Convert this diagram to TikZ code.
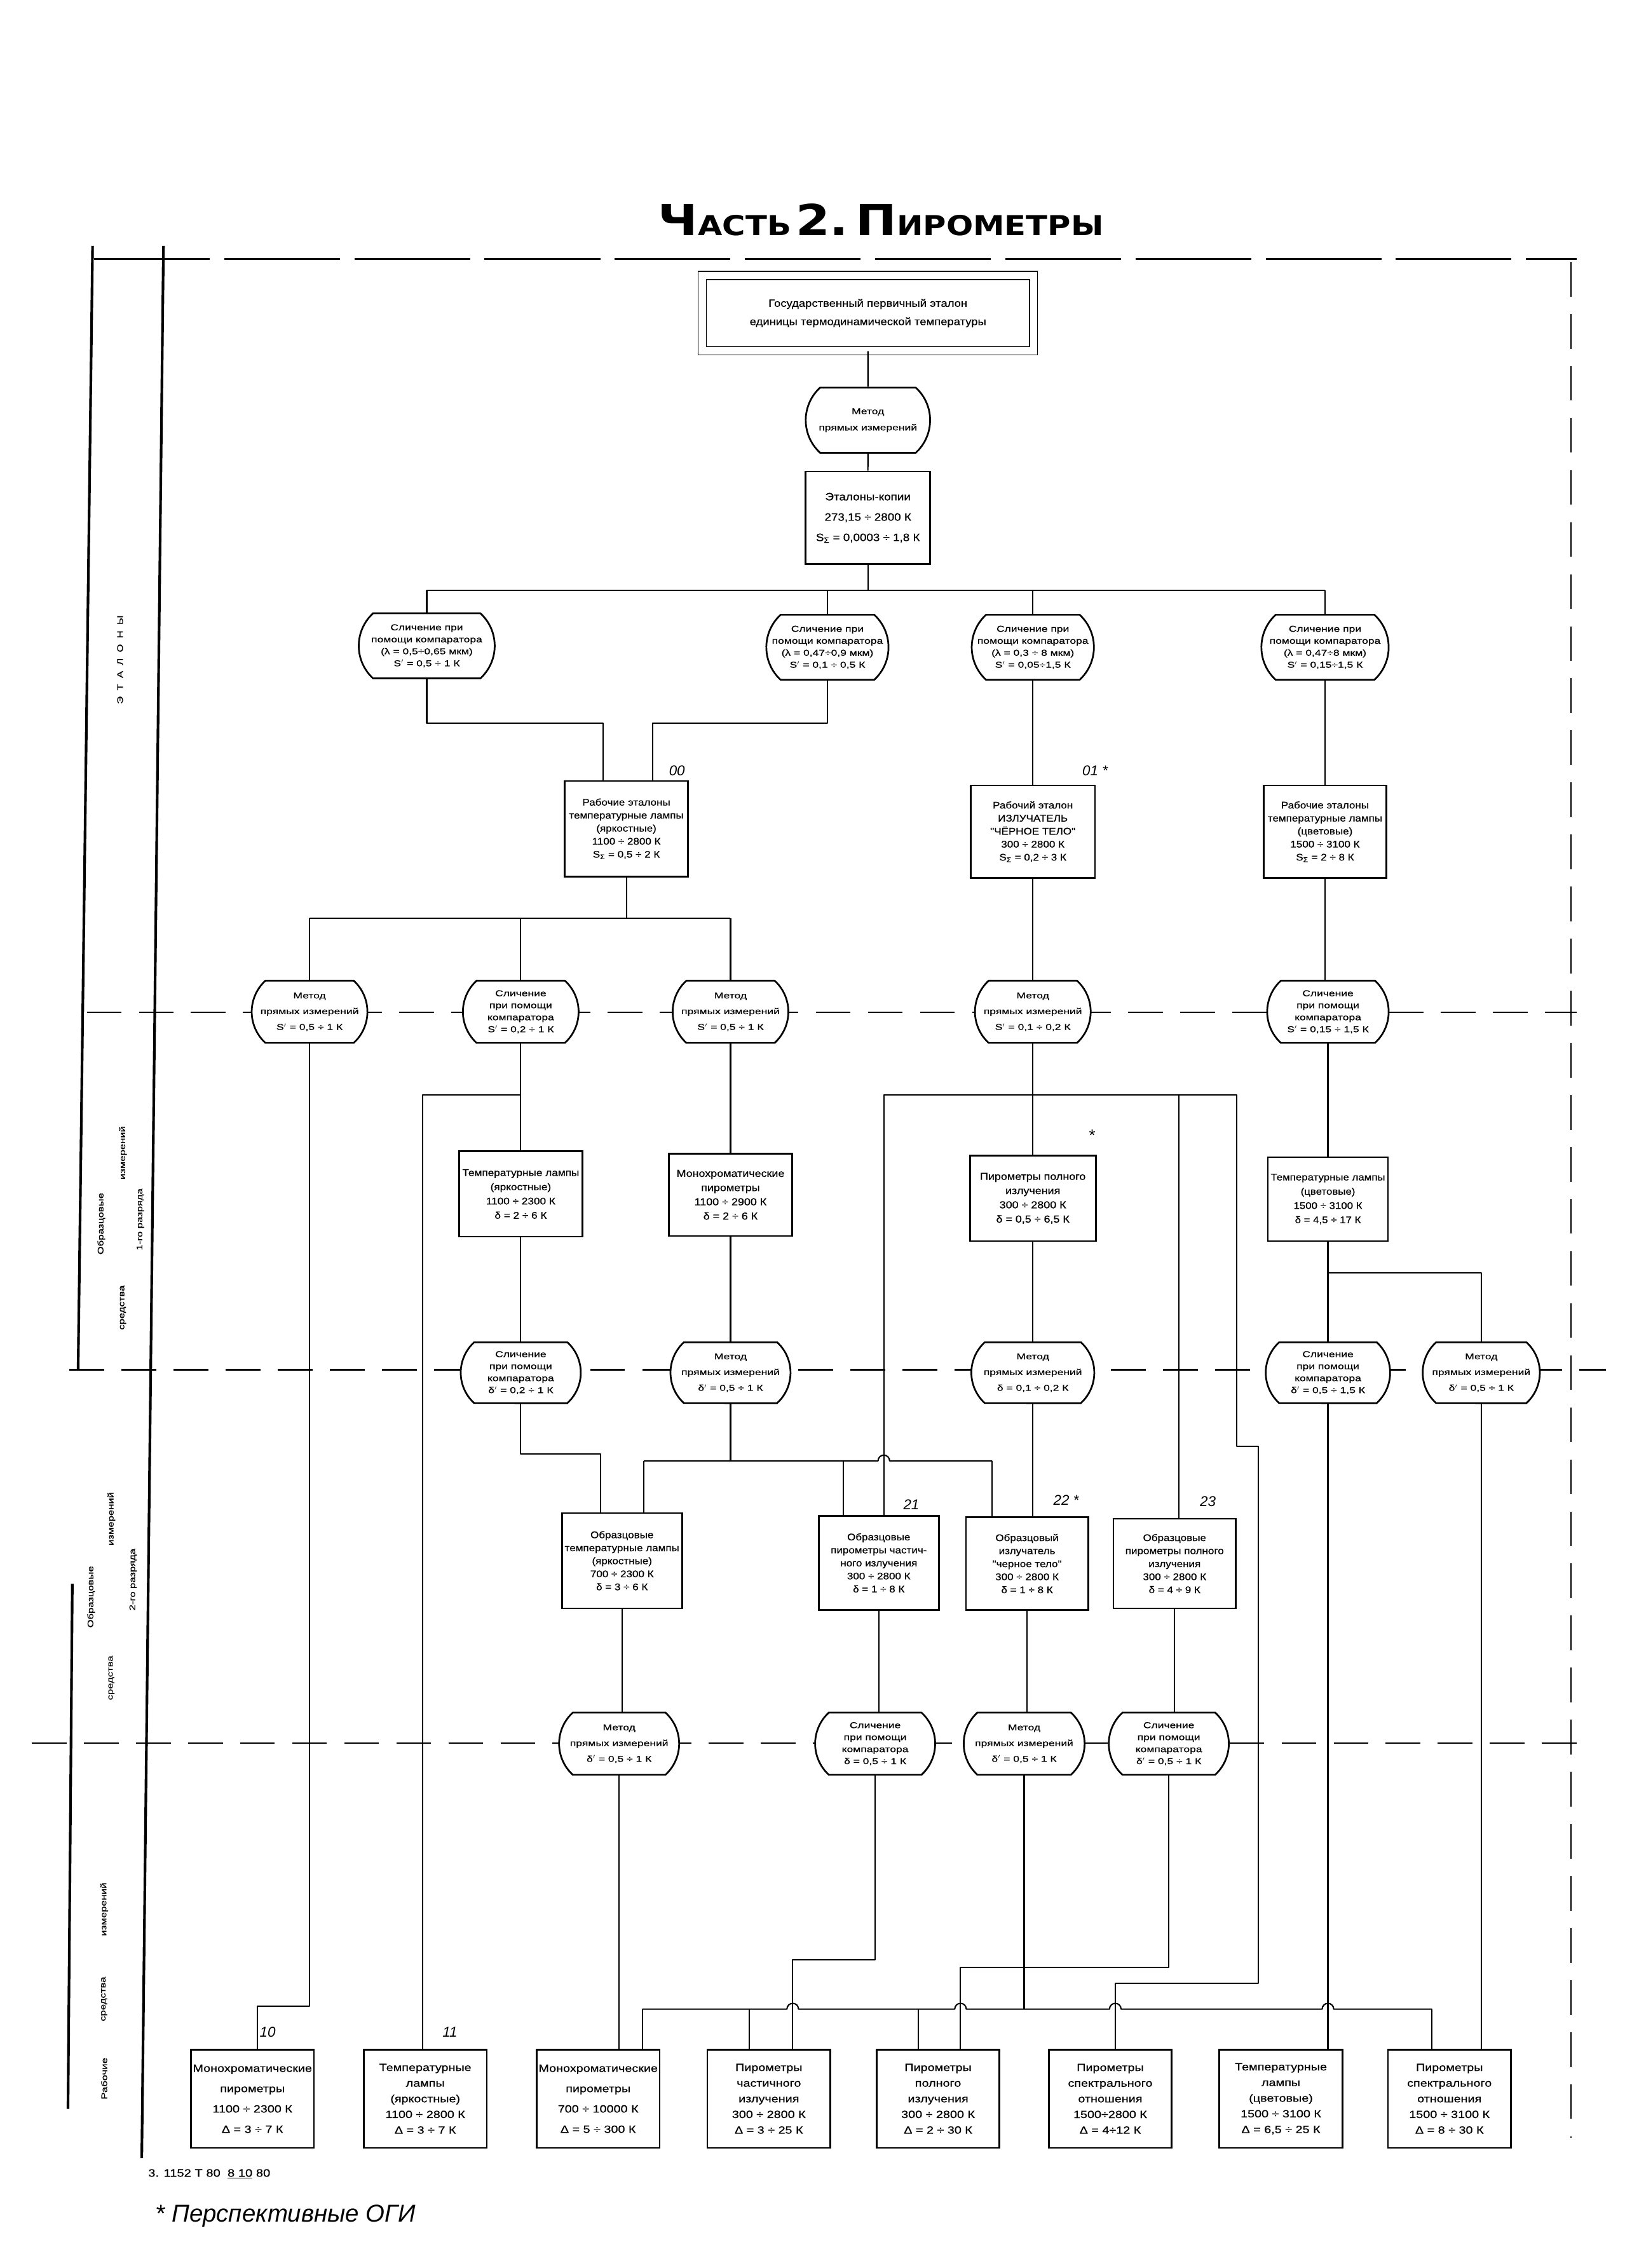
\documentclass[tikz,border=0pt]{standalone}
\usepackage{fontspec}
\setmainfont{Liberation Sans}
\newfontfamily\boxfnt{Liberation Sans}[FakeStretch=1.12,FakeBold=0.6]
\newfontfamily\ovfnt{Liberation Sans}[FakeStretch=1.3,FakeBold=0.6]
\newfontfamily\bbfnt{Liberation Sans}[FakeStretch=1.2,FakeBold=0.6]
\newfontfamily\titlefnt{DejaVu Sans}[FakeStretch=1.15]
\newfontfamily\handfnt{Liberation Sans}
\usetikzlibrary{shapes.misc}
\tikzset{
  ln/.style={line width=1.3pt, line join=round},
  rbox/.style={draw, line width=1.7pt, fill=white, align=center, inner sep=0.5pt,
    font={\boxfnt\fontsize{10}{14}\selectfont}},
  wbox/.style={rbox, font={\boxfnt\fontsize{9.5}{12.8}\selectfont}},
  ovl/.style={rounded rectangle, rounded rectangle arc length=95, draw, line width=1.7pt,
    fill=white, align=center, inner sep=0pt, font={\ovfnt\fontsize{8.4}{11.8}\selectfont}},
  ov3/.style={ovl, font={\ovfnt\fontsize{8.4}{15.5}\selectfont}},
  dsh/.style={line width=1.4pt, dash pattern=on 1.2cm off 0.6cm},
  lbl/.style={font={\handfnt\itshape\fontsize{14}{14}\selectfont}},
  side/.style={rotate=90, font={\ovfnt\fontsize{8}{9}\selectfont}},
  frame/.style={line width=2.6pt},
  bb/.style={rbox, minimum width=4.25cm, minimum height=3.4cm, font={\bbfnt\fontsize{10.3}{15.4}\selectfont}},
  bb4/.style={rbox, minimum width=4.25cm, minimum height=3.4cm, font={\bbfnt\fontsize{10.3}{20}\selectfont}}
}
\begin{document}
\begin{tikzpicture}[x=0.05cm,y=-0.05cm]
\useasboundingbox[fill=white] (0,0) rectangle (1128,1568);

% ---------- title and frame ----------
\node (title) at (609,152) {\titlefnt\bfseries\fontsize{42}{42}\selectfont Ч\fontsize{27}{27}\selectfont АСТЬ\,\fontsize{42}{42}\selectfont 2.\,П\fontsize{27}{27}\selectfont ИРОМЕТРЫ};
\draw[line width=1.4pt, dash pattern=on 4cm off 0.5cm] (65,179) -- (1090,179);
\draw[dsh] (1086,181) -- (1086,1478);
\draw[frame] (64,170) -- (54,947);
\draw[frame] (50,1095) -- (47,1458);
\draw[frame] (113,170) -- (98,1492);
\draw[dsh] (60,700) -- (1090,700);
\draw[dsh] (48,947) -- (1110,947);
\draw[dsh] (22,1205) -- (1090,1205);

% ---------- side labels ----------
\node[side] (sE) at (83,456) {Э\ \ Т\ \ А\ \ Л\ \ О\ \ Н\ \ Ы};
\node[side] (s1a) at (70,846) {Образцовые};
\node[side] (s1b) at (85,904) {средства};
\node[side] (s1c) at (85,797) {измерений};
\node[side] (s1d) at (97,843) {1-го разряда};
\node[side] (s2a) at (63,1104) {Образцовые};
\node[side] (s2b) at (77,1160) {средства};
\node[side] (s2c) at (77,1050) {измерений};
\node[side] (s2d) at (92,1092) {2-го разряда};
\node[side] (s3a) at (72,1437) {Рабочие};
\node[side] (s3b) at (72,1382) {средства};
\node[side] (s3c) at (72,1320) {измерений};

% ---------- top ----------
\node[rbox, double, double distance=0.25cm, line width=0.9pt, minimum width=11.45cm, minimum height=2.6cm,
  font={\boxfnt\fontsize{10.3}{18}\selectfont}] (T0) at (600,216.5)
  {Государственный первичный эталон\\единицы термодинамической температуры};
\node[ov3, minimum width=4.3cm, minimum height=2.25cm, font={\ovfnt\fontsize{8.4}{16}\selectfont}] (M0) at (600,290.5) {Метод\\прямых измерений};
\node[rbox, minimum width=4.3cm, minimum height=3.2cm, font={\boxfnt\fontsize{10.5}{20}\selectfont}] (E0) at (600,358)
  {Эталоны-копии\\273,15 ÷ 2800 К\\S\textsubscript{Σ} = 0,0003 ÷ 1,8 К};

% ---------- comparators ----------
\node[ovl, minimum width=4.7cm, minimum height=2.25cm] (C1) at (295,446.5) {Сличение при\\помощи компаратора\\(λ = 0,5÷0,65 мкм)\\S$'$ = 0,5 ÷ 1 К};
\node[ovl, minimum width=4.2cm, minimum height=2.25cm] (C2) at (572,447.5) {Сличение при\\помощи компаратора\\(λ = 0,47÷0,9 мкм)\\S$'$ = 0,1 ÷ 0,5 К};
\node[ovl, minimum width=4.2cm, minimum height=2.25cm] (C3) at (714,447.5) {Сличение при\\помощи компаратора\\(λ = 0,3 ÷ 8 мкм)\\S$'$ = 0,05÷1,5 К};
\node[ovl, minimum width=4.4cm, minimum height=2.25cm] (C4) at (916,447.5) {Сличение при\\помощи компаратора\\(λ = 0,47÷8 мкм)\\S$'$ = 0,15÷1,5 К};

% ---------- working standards ----------
\node[wbox, minimum width=4.25cm, minimum height=3.3cm] (W1) at (433,573)
  {Рабочие эталоны\\температурные лампы\\(яркостные)\\1100 ÷ 2800 К\\S\textsubscript{Σ} = 0,5 ÷ 2 К};
\node[wbox, minimum width=4.3cm, minimum height=3.2cm] (W2) at (714,575)
  {Рабочий эталон\\ИЗЛУЧАТЕЛЬ\\"ЧЁРНОЕ ТЕЛО"\\300 ÷ 2800 К\\S\textsubscript{Σ} = 0,2 ÷ 3 К};
\node[wbox, minimum width=4.25cm, minimum height=3.2cm] (W3) at (916,575)
  {Рабочие эталоны\\температурные лампы\\(цветовые)\\1500 ÷ 3100 К\\S\textsubscript{Σ} = 2 ÷ 8 К};
\node[lbl] (n00) at (468,533) {00};
\node[lbl] (n01) at (757,533) {01 *};

% ---------- method row 1 ----------
\node[ov3, minimum width=4.0cm, minimum height=2.15cm] (M1a) at (214,699.5) {Метод\\прямых измерений\\S$'$ = 0,5 ÷ 1 К};
\node[ovl, minimum width=4.0cm, minimum height=2.15cm] (M1b) at (360,699.5) {Сличение\\при помощи\\компаратора\\S$'$ = 0,2 ÷ 1 К};
\node[ov3, minimum width=4.0cm, minimum height=2.15cm] (M1c) at (505,699.5) {Метод\\прямых измерений\\S$'$ = 0,5 ÷ 1 К};
\node[ov3, minimum width=4.0cm, minimum height=2.15cm] (M1d) at (714,699.5) {Метод\\прямых измерений\\S$'$ = 0,1 ÷ 0,2 К};
\node[ovl, minimum width=4.2cm, minimum height=2.15cm] (M1e) at (918,699.5) {Сличение\\при помощи\\компаратора\\S$'$ = 0,15 ÷ 1,5 К};

% ---------- 1st rank ----------
\node[rbox, minimum width=4.25cm, minimum height=2.95cm, font={\boxfnt\fontsize{9.6}{14}\selectfont}] (R1a) at (360,825.5) {Температурные лампы\\(яркостные)\\1100 ÷ 2300 К\\δ = 2 ÷ 6 К};
\node[rbox, minimum width=4.25cm, minimum height=2.85cm] (R1b) at (505,826) {Монохроматические\\пирометры\\1100 ÷ 2900 К\\δ = 2 ÷ 6 К};
\node[rbox, minimum width=4.35cm, minimum height=2.95cm] (R1c) at (714,828.5) {Пирометры полного\\излучения\\300 ÷ 2800 К\\δ = 0,5 ÷ 6,5 К};
\node[rbox, minimum width=4.15cm, minimum height=2.9cm, font={\boxfnt\fontsize{9.4}{14}\selectfont}] (R1d) at (918,829) {Температурные лампы\\(цветовые)\\1500 ÷ 3100 К\\δ = 4,5 ÷ 17 К};
\node[lbl, font={\handfnt\fontsize{16}{16}\selectfont}] (st1) at (755,785) {*};

% ---------- method row 2 ----------
\node[ovl, minimum width=4.15cm, minimum height=2.1cm] (M2a) at (360,949) {Сличение\\при помощи\\компаратора\\δ$'$ = 0,2 ÷ 1 К};
\node[ov3, minimum width=4.15cm, minimum height=2.1cm] (M2b) at (505,949) {Метод\\прямых измерений\\δ$'$ = 0,5 ÷ 1 К};
\node[ov3, minimum width=4.25cm, minimum height=2.1cm] (M2c) at (714,949) {Метод\\прямых измерений\\δ = 0,1 ÷ 0,2 К};
\node[ovl, minimum width=4.3cm, minimum height=2.1cm] (M2d) at (918,949) {Сличение\\при помощи\\компаратора\\δ$'$ = 0,5 ÷ 1,5 К};
\node[ov3, minimum width=4.05cm, minimum height=2.1cm] (M2e) at (1024,949) {Метод\\прямых измерений\\δ$'$ = 0,5 ÷ 1 К};

% ---------- 2nd rank ----------
\node[wbox, minimum width=4.15cm, minimum height=3.3cm] (A) at (430,1079) {Образцовые\\температурные лампы\\(яркостные)\\700 ÷ 2300 К\\δ = 3 ÷ 6 К};
\node[wbox, minimum width=4.15cm, minimum height=3.25cm] (B) at (607.5,1080.5) {Образцовые\\пирометры частич-\\ного излучения\\300 ÷ 2800 К\\δ = 1 ÷ 8 К};
\node[wbox, minimum width=4.225cm, minimum height=3.2cm] (C) at (710,1081) {Образцовый\\излучатель\\"черное тело"\\300 ÷ 2800 К\\δ = 1 ÷ 8 К};
\node[wbox, minimum width=4.225cm, minimum height=3.1cm] (D) at (812,1081) {Образцовые\\пирометры полного\\излучения\\300 ÷ 2800 К\\δ = 4 ÷ 9 К};
\node[lbl] (n21) at (630,1040) {21};
\node[lbl] (n22) at (737,1037) {22 *};
\node[lbl] (n23) at (835,1038) {23};

% ---------- method row 3 ----------
\node[ov3, minimum width=4.15cm, minimum height=2.15cm] (M3a) at (428,1205.5) {Метод\\прямых измерений\\δ$'$ = 0,5 ÷ 1 К};
\node[ovl, minimum width=4.15cm, minimum height=2.15cm] (M3b) at (605,1205.5) {Сличение\\при помощи\\компаратора\\δ = 0,5 ÷ 1 К};
\node[ov3, minimum width=4.18cm, minimum height=2.15cm] (M3c) at (708,1205.5) {Метод\\прямых измерений\\δ$'$ = 0,5 ÷ 1 К};
\node[ovl, minimum width=4.15cm, minimum height=2.15cm] (M3d) at (808,1205.5) {Сличение\\при помощи\\компаратора\\δ$'$ = 0,5 ÷ 1 К};

% ---------- working instruments ----------
\node[bb4] (B1) at (174.5,1451) {Монохроматические\\пирометры\\1100 ÷ 2300 К\\Δ = 3 ÷ 7 К};
\node[bb] (B2) at (294,1451) {Температурные\\лампы\\(яркостные)\\1100 ÷ 2800 К\\Δ = 3 ÷ 7 К};
\node[bb4] (B3) at (413.5,1451) {Монохроматические\\пирометры\\700 ÷ 10000 К\\Δ = 5 ÷ 300 К};
\node[bb] (B4) at (531.5,1451) {Пирометры\\частичного\\излучения\\300 ÷ 2800 К\\Δ = 3 ÷ 25 К};
\node[bb] (B5) at (648.5,1451) {Пирометры\\полного\\излучения\\300 ÷ 2800 К\\Δ = 2 ÷ 30 К};
\node[bb] (B6) at (767.5,1451) {Пирометры\\спектрального\\отношения\\1500÷2800 К\\Δ = 4÷12 К};
\node[bb] (B7) at (885.5,1451) {Температурные\\лампы\\(цветовые)\\1500 ÷ 3100 К\\Δ = 6,5 ÷ 25 К};
\node[bb] (B8) at (1002,1451) {Пирометры\\спектрального\\отношения\\1500 ÷ 3100 К\\Δ = 8 ÷ 30 К};
\node[lbl] (n10) at (185,1405) {10};
\node[lbl] (n11) at (311,1405) {11};

% ---------- connectors: top ----------
\draw[ln] (T0) -- (M0);
\draw[ln] (M0) -- (E0);
\coordinate (b0) at (600,408);
\draw[ln] (E0.south) -- (b0);
\draw[ln] (C1.north |- b0) -- (C4.north |- b0);
\foreach \n in {C1,C2,C3,C4} \draw[ln] (\n.north |- b0) -- (\n.north);
\coordinate (b1l) at (417,500);
\coordinate (b1r) at (451,500);
\draw[ln] (C1.south) -- (C1.south |- b1l) -- (b1l) -- (b1l |- W1.north);
\draw[ln] (C2.south) -- (C2.south |- b1r) -- (b1r) -- (b1r |- W1.north);
\draw[ln] (C3.south) -- (C3.south |- W2.north);
\draw[ln] (C4.south) -- (C4.south |- W3.north);
% W1 -> row 1
\coordinate (b2) at (433,635);
\draw[ln] (W1.south) -- (b2);
\draw[ln] (M1a.north |- b2) -- (M1c.north |- b2);
\foreach \n in {M1a,M1b,M1c} \draw[ln] (\n.north |- b2) -- (\n.north);
\draw[ln] (W2.south) -- (W2.south |- M1d.north);
\draw[ln] (W3.south) -- (W3.south |- M1e.north);
% row 1 -> 1st rank
\draw[ln] (M1b.south) -- (M1b.south |- R1a.north);
\draw[ln] (M1c.south) -- (M1c.south |- R1b.north);
\draw[ln] (M1d.south) -- (M1d.south |- R1c.north);
\draw[ln] (M1e.south) -- (M1e.south |- R1d.north);
\coordinate (k292) at (292,757);
\draw[ln] (M1b.south |- k292) -- (k292) -- (k292 |- B2.north);
\coordinate (k611) at (611,757);
\coordinate (k815) at (815,757);
\coordinate (k855) at (855,757);
\coordinate (k855a) at (855,1000);
\coordinate (k870a) at (870,1000);
\coordinate (k870b) at (870,1371);
\coordinate (k771) at (771,1371);
\draw[ln] (k611 |- B.north) -- (k611) -- (k855) -- (k855a) -- (k870a) -- (k870b) -- (k771) -- (k771 |- B6.north);
\draw[ln] (k815) -- (k815 |- D.north);
% M1a long line
\coordinate (k214) at (214,1387);
\coordinate (k178) at (178,1387);
\draw[ln] (M1a.south) -- (k214) -- (k178) -- (k178 |- B1.north);
% 1st rank -> row 2
\draw[ln] (R1a.south) -- (R1a.south |- M2a.north);
\draw[ln] (R1b.south) -- (R1b.south |- M2b.north);
\draw[ln] (R1c.south) -- (R1c.south |- M2c.north);
\draw[ln] (R1d.south) -- (R1d.south |- M2d.north);
\coordinate (k880) at (918,880);
\coordinate (k880r) at (1024,880);
\draw[ln] (k880) -- (k880r) -- (M2e.north);
% row 2 -> 2nd rank
\coordinate (m2a) at (360,1005);
\coordinate (m2al) at (415,1005);
\draw[ln] (M2a.south) -- (m2a) -- (m2al) -- (m2al |- A.north);
\coordinate (m2b) at (505,1010);
\coordinate (m2b1) at (445,1010);
\coordinate (m2b2) at (583,1010);
\coordinate (m2b3) at (686,1010);
\draw[ln] (M2b.south) -- (m2b);
\draw[ln] (m2b1) -- (607,1010) arc[start angle=180,end angle=360,radius=4] -- (m2b3);
\draw[ln] (m2b1) -- (m2b1 |- A.north);
\draw[ln] (m2b2) -- (m2b2 |- B.north);
\draw[ln] (m2b3) -- (m2b3 |- C.north);
\draw[ln] (M2c.south) -- (M2c.south |- C.north);
% 2nd rank -> row 3
\draw[ln] (A.south) -- (A.south |- M3a.north);
\draw[ln] (B.south) -- (B.south |- M3b.north);
\draw[ln] (C.south) -- (C.south |- M3c.north);
\draw[ln] (D.south) -- (D.south |- M3d.north);
% row 3 -> working
\draw[ln] (M3a.south) -- (M3a.south |- B3.north);
\coordinate (j548) at (548,1355);
\coordinate (j605) at (605,1355);
\draw[ln] (M3b.south) -- (j605) -- (j548) -- (j548 |- B4.north);
\coordinate (j664) at (664,1360);
\coordinate (j808) at (808,1360);
\draw[ln] (M3d.south) -- (j808) -- (j664) -- (j664 |- B5.north);
\coordinate (bus) at (708,1389);
\draw[ln] (M3c.south) -- (bus);
\coordinate (bus0) at (444,1389);
\coordinate (bus1) at (518,1389);
\coordinate (bus2) at (635,1389);
\coordinate (bus3) at (990,1389);
\draw[ln] (bus0) -- (544,1389) arc[start angle=180,end angle=360,radius=4]
  -- (660,1389) arc[start angle=180,end angle=360,radius=4]
  -- (767,1389) arc[start angle=180,end angle=360,radius=4]
  -- (914,1389) arc[start angle=180,end angle=360,radius=4] -- (bus3);
\draw[ln] (bus0) -- (bus0 |- B3.north);
\draw[ln] (bus1) -- (bus1 |- B4.north);
\draw[ln] (bus2) -- (bus2 |- B5.north);
\draw[ln] (bus3) -- (bus3 |- B8.north);
\draw[ln] (M2d.south) -- (M2d.south |- B7.north);
\draw[ln] (M2e.south) -- (M2e.south |- B8.north);

% ---------- footer ----------
\node[anchor=west, font={\bbfnt\fontsize{10.5}{11}\selectfont}] (foot) at (100,1503) {3. 1152 Т 80\ \ \underline{8 10} 80};
\node[anchor=west, font={\handfnt\itshape\fontsize{24}{24}\selectfont}] (note) at (105,1532) {* Перспективные ОГИ};
\end{tikzpicture}
\end{document}
